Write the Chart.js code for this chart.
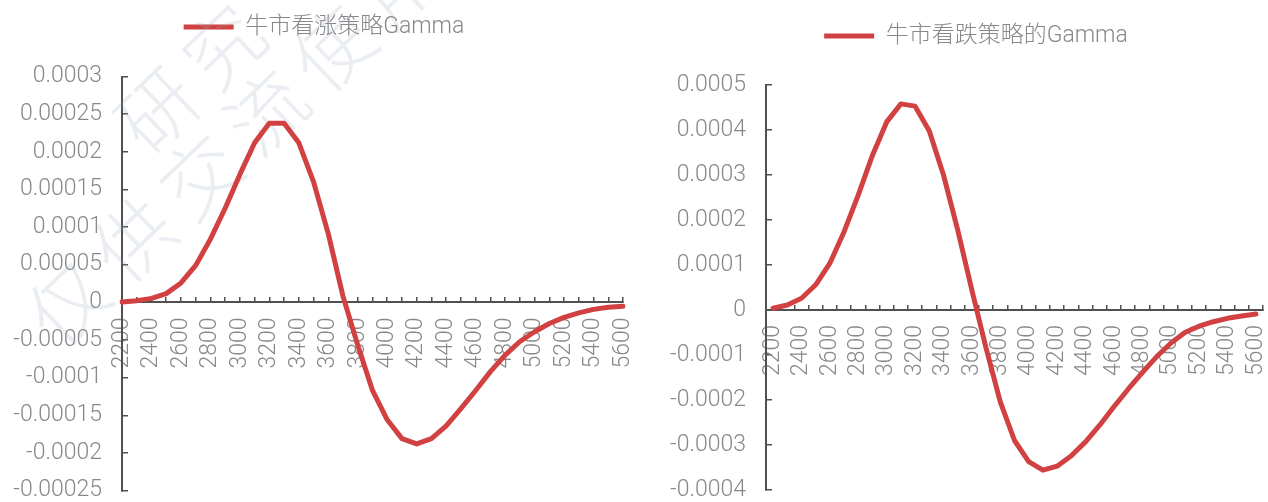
<!DOCTYPE html>
<html>
<head>
<meta charset="utf-8">
<script src="https://cdn.jsdelivr.net/npm/chart.js@4.4.1/dist/chart.umd.min.js"></script>
<style>
  html, body { margin: 0; padding: 0; background: #ffffff; overflow: hidden; }
  #wrap { position: relative; width: 1268px; height: 502px; }
  .panel { position: absolute; top: 0; height: 502px; }
</style>
</head>
<body>
<div id="wrap">
  <div class="panel" style="left:0;width:640px"><canvas id="callChart" width="640" height="502"></canvas></div>
  <div class="panel" style="left:640px;width:628px"><canvas id="putChart" width="628" height="502"></canvas></div>
</div>
<script>
// Underlying price grid (one point per 100)
const strikes = [2200, 2300, 2400, 2500, 2600, 2700, 2800, 2900, 3000, 3100,
                 3200, 3300, 3400, 3500, 3600, 3700, 3800, 3900, 4000, 4100,
                 4200, 4300, 4400, 4500, 4600, 4700, 4800, 4900, 5000, 5100,
                 5200, 5300, 5400, 5500, 5600];

// Labelled prices on the horizontal axis
const xTickLabels = ['2200', '2400', '2600', '2800', '3000', '3200', '3400', '3600', '3800',
                     '4000', '4200', '4400', '4600', '4800', '5000', '5200', '5400', '5600'];

// Gamma of the bull call spread
const bullCallGamma = [0.0000005, 0.0000023, 0.0000053, 0.0000116, 0.0000258, 0.000049, 0.000084,
                       0.000125, 0.00017, 0.000212, 0.000238, 0.000238, 0.000212, 0.00016,
                       0.000091, 0.000008, -0.000057, -0.000117, -0.000156, -0.000181, -0.000188,
                       -0.000181, -0.000164, -0.000141, -0.000117, -0.000092, -0.00007, -0.000052,
                       -0.000039, -0.000028, -0.00002, -0.000014, -0.0000093, -0.0000066, -0.000005];

// Gamma of the bull put spread
const bullPutGamma = [0.000004, 0.000011, 0.000026, 0.000056, 0.000104, 0.000174, 0.000256,
                      0.000344, 0.000418, 0.000458, 0.000453, 0.000398, 0.0003, 0.000178,
                      0.000044, -0.000085, -0.000204, -0.00029, -0.000337, -0.000356, -0.000347,
                      -0.000324, -0.000293, -0.000256, -0.000215, -0.000176, -0.000139, -0.000104,
                      -0.000074, -0.00005, -0.000036, -0.000026, -0.0000185, -0.0000133, -0.0000089];

// Value-axis ticks
const yTicksCall = [-0.00025, -0.0002, -0.00015, -0.0001, -0.00005, 0,
                    0.00005, 0.0001, 0.00015, 0.0002, 0.00025, 0.0003];
const yTicksPut = [-0.0004, -0.0003, -0.0002, -0.0001, 0,
                   0.0001, 0.0002, 0.0003, 0.0004, 0.0005];

const legendCall = '牛市看涨策略Gamma';
const legendPut = '牛市看跌策略的Gamma';

const RED = '#d14141';
const GREY = '#888888';
const AXIS = '#505050';
const FONT = "Roboto, 'Noto Sans CJK SC', sans-serif";

const fmtValue = v => String(parseFloat(Number(v).toFixed(7)));

// Faint diagonal watermark behind the first chart
const watermark = {
  id: 'watermark',
  beforeDatasetsDraw(chart) {
    const ctx = chart.ctx;
    const step = 92, ang = -0.765;
    const dx = Math.cos(ang) * step, dy = Math.sin(ang) * step;
    const rows = [['研究', 157, 110], ['仅供交流使用', 67, 303]];
    ctx.save();
    ctx.font = "300 78px 'Noto Sans CJK SC'";
    ctx.fillStyle = 'rgba(150,170,192,0.2)';
    ctx.textAlign = 'center';
    ctx.textBaseline = 'middle';
    rows.forEach(([text, x0, y0]) => {
      Array.from(text).forEach((ch, i) => {
        ctx.save();
        ctx.translate(x0 + dx * i, y0 + dy * i);
        ctx.rotate(ang);
        ctx.fillText(ch, 0, 0);
        ctx.restore();
      });
    });
    ctx.restore();
  }
};

// Moves the legend sideways without touching the plot layout
const legendShift = {
  id: 'legendShift',
  afterLayout(chart, args, opts) {
    const lg = chart.legend;
    if (lg && opts.dx) { lg.left += opts.dx; lg.right += opts.dx; }
  }
};

function makeChart(id, o) {
  return new Chart(document.getElementById(id), {
    type: 'line',
    data: {
      labels: strikes.map(String),
      datasets: [{
        label: o.label,
        data: o.data,
        borderColor: RED,
        backgroundColor: RED,
        borderWidth: 5,
        borderCapStyle: 'round',
        borderJoinStyle: 'round',
        pointRadius: 0,
        pointHoverRadius: 0,
        pointStyle: 'line',
        tension: 0,
        fill: false
      }]
    },
    options: {
      responsive: false,
      animation: false,
      events: [],
      layout: { padding: o.pad },
      plugins: {
        legend: {
          position: 'top',
          labels: {
            usePointStyle: true,
            pointStyle: 'line',
            pointStyleWidth: 50,
            padding: 10,
            color: GREY,
            font: { family: FONT, size: 23, weight: 300 }
          }
        },
        legendShift: { dx: o.legendDx },
        // empty spacer between legend and plot
        title: { display: true, text: '', weight: 0, padding: 0, font: { size: o.gap, lineHeight: 1 } },
        tooltip: { enabled: false }
      },
      scales: {
        x: {
          type: 'category',
          position: { y: 0 },
          offset: o.offset,
          grid: {
            offset: o.offset,
            drawOnChartArea: false,
            drawTicks: true,
            tickLength: -6,
            color: AXIS,
            lineWidth: 1.5
          },
          border: { display: true, color: AXIS, width: 2 },
          ticks: {
            autoSkip: false,
            minRotation: 90,
            maxRotation: 90,
            padding: 21,
            color: GREY,
            font: { family: FONT, size: 23, weight: 300 },
            callback(value) {
              const s = this.getLabelForValue(value);
              return xTickLabels.includes(s) ? s : '';
            }
          },
          afterFit(s) { s.height = 0; s.paddingLeft = 0; s.paddingRight = 0; }
        },
        y: {
          type: 'linear',
          min: o.yTicks[0],
          max: o.yTicks[o.yTicks.length - 1],
          grid: {
            drawOnChartArea: false,
            drawTicks: true,
            tickLength: -6,
            color: AXIS,
            lineWidth: 1.5
          },
          border: { display: true, color: AXIS, width: 2 },
          ticks: {
            padding: 26,
            color: GREY,
            font: { family: FONT, size: 23, weight: 300 },
            callback: fmtValue
          },
          afterBuildTicks(s) { s.ticks = o.yTicks.map(v => ({ value: v })); },
          afterFit(s) { s.width = o.yWidth; s.paddingTop = 0; s.paddingBottom = 0; }
        }
      }
    },
    plugins: [legendShift].concat(o.plugins || [])
  });
}

makeChart('callChart', {
  label: legendCall,
  data: bullCallGamma,
  yTicks: yTicksCall,
  offset: false,
  pad: { top: 5.5, bottom: 11.4, left: 0, right: 17 },
  gap: 28,
  yWidth: 122,
  legendDx: 12.5,
  plugins: [watermark]
});

makeChart('putChart', {
  label: legendPut,
  data: bullPutGamma,
  yTicks: yTicksPut,
  offset: true,
  pad: { top: 14.5, bottom: 12, left: 0, right: 5 },
  gap: 27.5,
  yWidth: 126,
  legendDx: 24.5
});
</script>
</body>
</html>
